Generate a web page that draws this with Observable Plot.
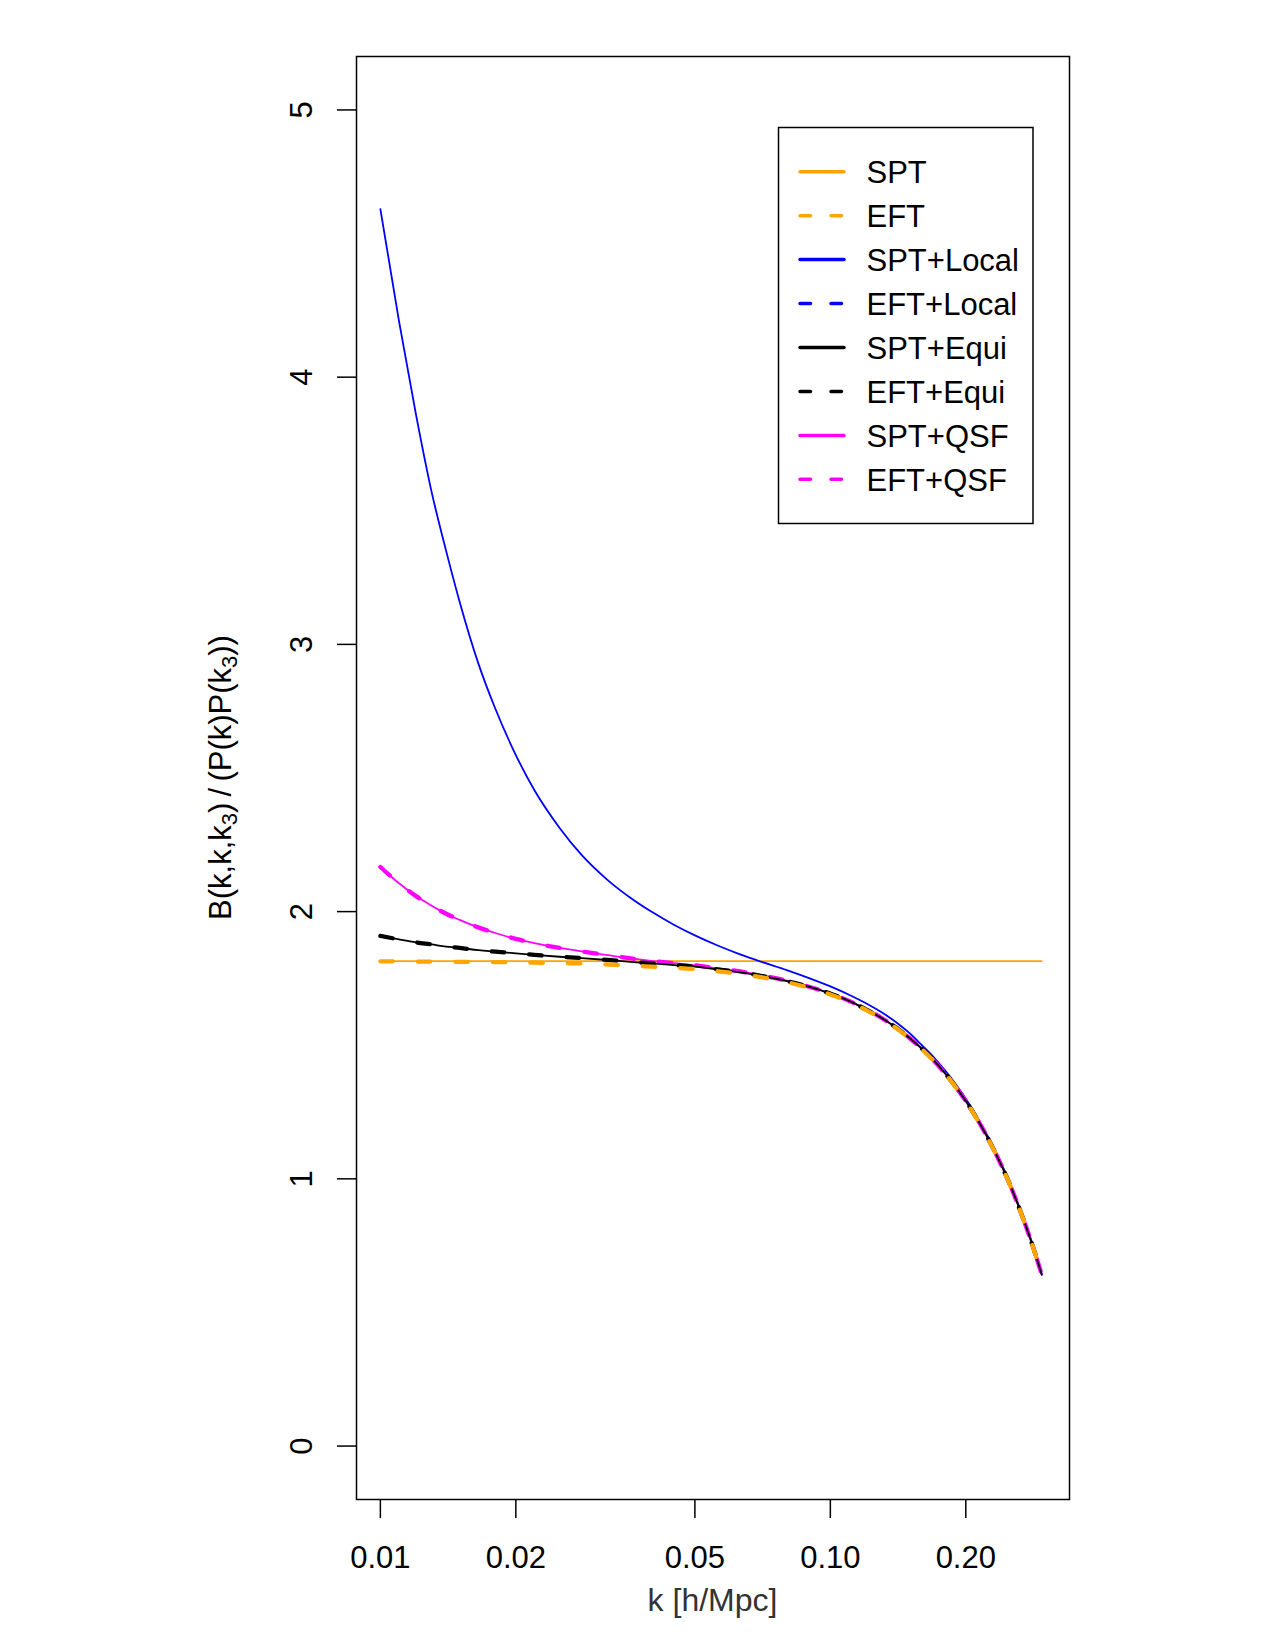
<!DOCTYPE html>
<html>
<head>
<meta charset="utf-8">
<script src="https://cdn.jsdelivr.net/npm/d3@7"></script>
<script src="https://cdn.jsdelivr.net/npm/@observablehq/plot@0.6"></script>
<style>
  body { margin: 0; background: #fff; }
  #chart svg { display: block; }
</style>
</head>
<body>
<div id="chart"></div>
<script>
// Wavenumbers k [h/Mpc] at which the reduced bispectrum ratio is tabulated
const kValues = [0.010, 0.011, 0.012, 0.013, 0.014, 0.015, 0.0165, 0.018, 0.020, 0.022,
  0.025, 0.028, 0.032, 0.036, 0.040, 0.045, 0.050, 0.056, 0.063, 0.070,
  0.080, 0.090, 0.100, 0.110, 0.120, 0.130, 0.140, 0.150, 0.160, 0.170,
  0.180, 0.190, 0.200, 0.210, 0.220, 0.230, 0.240, 0.250, 0.260, 0.270,
  0.280, 0.290, 0.295];

// B(k,k,k3) / (P(k) P(k3)) for each model
const spt = [1.815, 1.815, 1.815, 1.815, 1.815, 1.815, 1.815, 1.815, 1.815, 1.815,
  1.815, 1.815, 1.815, 1.815, 1.815, 1.815, 1.815, 1.815, 1.815, 1.815,
  1.815, 1.815, 1.815, 1.815, 1.815, 1.815, 1.815, 1.815, 1.815, 1.815,
  1.815, 1.815, 1.815, 1.815, 1.815, 1.815, 1.815, 1.815, 1.815, 1.815,
  1.815, 1.815, 1.815];

const eft = [1.814, 1.814, 1.813, 1.813, 1.812, 1.812, 1.811, 1.811, 1.810, 1.809,
  1.807, 1.806, 1.802, 1.798, 1.794, 1.790, 1.785, 1.777, 1.767, 1.755,
  1.736, 1.714, 1.690, 1.663, 1.632, 1.600, 1.564, 1.525, 1.484, 1.440,
  1.393, 1.343, 1.290, 1.234, 1.175, 1.113, 1.049, 0.982, 0.911, 0.837,
  0.761, 0.681, 0.640];

const sptLocal = [4.629, 4.210, 3.860, 3.570, 3.350, 3.160, 2.930, 2.760, 2.586, 2.454,
  2.314, 2.212, 2.118, 2.051, 2.000, 1.950, 1.911, 1.874, 1.840, 1.813,
  1.781, 1.750, 1.720, 1.689, 1.657, 1.623, 1.586, 1.545, 1.499, 1.454,
  1.405, 1.354, 1.300, 1.243, 1.183, 1.121, 1.056, 0.989, 0.917, 0.843,
  0.767, 0.686, 0.645];

const sptEqui = [1.909, 1.896, 1.885, 1.877, 1.869, 1.864, 1.856, 1.850, 1.844, 1.838,
  1.831, 1.826, 1.819, 1.812, 1.806, 1.800, 1.794, 1.784, 1.773, 1.760,
  1.740, 1.718, 1.693, 1.666, 1.634, 1.602, 1.566, 1.527, 1.486, 1.442,
  1.394, 1.344, 1.291, 1.235, 1.176, 1.114, 1.050, 0.983, 0.912, 0.838,
  0.762, 0.682, 0.641];

const eftEqui = [1.909, 1.896, 1.885, 1.877, 1.869, 1.864, 1.856, 1.850, 1.844, 1.838,
  1.831, 1.826, 1.819, 1.812, 1.806, 1.800, 1.794, 1.784, 1.773, 1.760,
  1.740, 1.718, 1.693, 1.666, 1.634, 1.602, 1.566, 1.527, 1.486, 1.442,
  1.394, 1.344, 1.291, 1.235, 1.176, 1.114, 1.050, 0.983, 0.912, 0.838,
  0.762, 0.682, 0.641];

const sptQsf = [2.167, 2.106, 2.058, 2.022, 1.992, 1.969, 1.941, 1.920, 1.898, 1.882,
  1.864, 1.851, 1.837, 1.825, 1.816, 1.807, 1.799, 1.788, 1.776, 1.762,
  1.742, 1.718, 1.694, 1.666, 1.635, 1.602, 1.566, 1.527, 1.485, 1.441,
  1.394, 1.344, 1.291, 1.235, 1.176, 1.114, 1.050, 0.983, 0.912, 0.838,
  0.762, 0.682, 0.641];

const eftQsf = [2.167, 2.106, 2.058, 2.022, 1.992, 1.969, 1.941, 1.920, 1.898, 1.882,
  1.864, 1.851, 1.837, 1.825, 1.816, 1.807, 1.799, 1.788, 1.776, 1.762,
  1.742, 1.718, 1.694, 1.666, 1.635, 1.602, 1.566, 1.527, 1.485, 1.441,
  1.394, 1.344, 1.291, 1.235, 1.176, 1.114, 1.050, 0.983, 0.912, 0.838,
  0.762, 0.682, 0.641];

// Axis ticks and labels
const xTicks = [0.01, 0.02, 0.05, 0.10, 0.20];
const xTickLabels = ["0.01", "0.02", "0.05", "0.10", "0.20"];
const yTicks = [0, 1, 2, 3, 4, 5];
const yTickLabels = ["0", "1", "2", "3", "4", "5"];

// Legend entries, in order
const legendNames = ["SPT", "EFT", "SPT+Local", "EFT+Local", "SPT+Equi", "EFT+Equi", "SPT+QSF", "EFT+QSF"];

// ---- styling ----
const FONT = "'Liberation Sans', Arial, Helvetica, sans-serif";
const colorOf = {
  "SPT": "orange", "EFT": "orange",
  "SPT+Local": "blue", "EFT+Local": "blue",
  "SPT+Equi": "black", "EFT+Equi": "black",
  "SPT+QSF": "magenta", "EFT+QSF": "magenta"
};
const isDashed = name => name.startsWith("EFT");

const rowsOf = values => kValues.map((k, i) => ({k, v: values[i]}));

// Drawing order: thin solid curves beneath, thick dashed curves above
const drawn = [
  ["SPT", spt],
  ["SPT+Local", sptLocal],
  ["SPT+QSF", sptQsf],
  ["EFT+QSF", eftQsf],
  ["SPT+Equi", sptEqui],
  ["EFT+Equi", eftEqui],
  ["EFT", eft]
];

const lineMarks = drawn.map(([name, values]) => Plot.line(rowsOf(values), {
  x: "k",
  y: "v",
  stroke: colorOf[name],
  strokeWidth: isDashed(name) ? 4.3 : 1.8,
  strokeDasharray: isDashed(name) ? "12.5,25" : null,
  strokeLinecap: "round",
  strokeLinejoin: "round",
  curve: "monotone-x"
}));

const plot = Plot.plot({
  width: 1275,
  height: 1650,
  marginLeft: 356,
  marginRight: 206,
  marginTop: 56,
  marginBottom: 151,
  style: {fontFamily: FONT, fontSize: "31px", background: "white", color: "black"},
  x: {type: "log", domain: [0.00885, 0.34]},
  y: {domain: [-0.2, 5.2]},
  marks: [
    ...lineMarks,
    Plot.frame({stroke: "black", strokeWidth: 1.5}),
    Plot.axisX({
      ticks: xTicks,
      tickSize: 19,
      tickPadding: 27,
      strokeWidth: 1.5,
      fontSize: 31,
      tickFormat: d => xTickLabels[xTicks.indexOf(d)],
      label: null
    }),
    Plot.axisY({
      ticks: yTicks,
      tickSize: 19,
      strokeWidth: 1.5,
      tickFormat: () => "",
      label: null
    }),
    Plot.text(yTicks, {
      y: d => d,
      text: d => yTickLabels[yTicks.indexOf(d)],
      frameAnchor: "left",
      dx: -54,
      rotate: -90,
      textAnchor: "middle",
      lineAnchor: "middle",
      fontSize: 31,
      fill: "black"
    })
  ]
});

document.getElementById("chart").appendChild(plot);

const svg = d3.select(plot);

// x-axis title
svg.append("text")
  .attr("x", 712.5)
  .attr("y", 1611)
  .attr("text-anchor", "middle")
  .attr("font-family", FONT)
  .attr("font-size", 32)
  .attr("fill", "#333")
  .text("k [h/Mpc]");

// y-axis title with subscripts
const yTitle = svg.append("text")
  .attr("transform", "translate(231,777.5) rotate(-90)")
  .attr("text-anchor", "middle")
  .attr("font-family", FONT)
  .attr("font-size", 31)
  .attr("fill", "black");
yTitle.append("tspan").text("B(k,k,k");
yTitle.append("tspan").attr("font-size", 22).attr("dy", 6).text("3");
yTitle.append("tspan").attr("dy", -6).text(")\u2009/\u2009(P(k)P(k");
yTitle.append("tspan").attr("font-size", 22).attr("dy", 6).text("3");
yTitle.append("tspan").attr("dy", -6).text("))");

// Legend box
const legend = svg.append("g")
  .attr("font-family", FONT)
  .attr("font-size", 31)
  .attr("text-anchor", "start");
legend.append("rect")
  .attr("x", 778.5).attr("y", 127.5)
  .attr("width", 254.5).attr("height", 396)
  .attr("fill", "white")
  .attr("stroke", "black")
  .attr("stroke-width", 1.5);

legendNames.forEach((name, i) => {
  const cy = 171.7 + i * 43.95;
  legend.append("line")
    .attr("x1", 800).attr("x2", 844)
    .attr("y1", cy).attr("y2", cy)
    .attr("stroke", colorOf[name])
    .attr("stroke-width", 3.5)
    .attr("stroke-linecap", "round")
    .attr("stroke-dasharray", isDashed(name) ? "10.5,20.5" : null);
  legend.append("text")
    .attr("x", 866.5)
    .attr("y", cy)
    .attr("dy", "0.36em")
    .attr("text-anchor", "start")
    .attr("fill", "black")
    .text(name);
});
</script>
</body>
</html>
